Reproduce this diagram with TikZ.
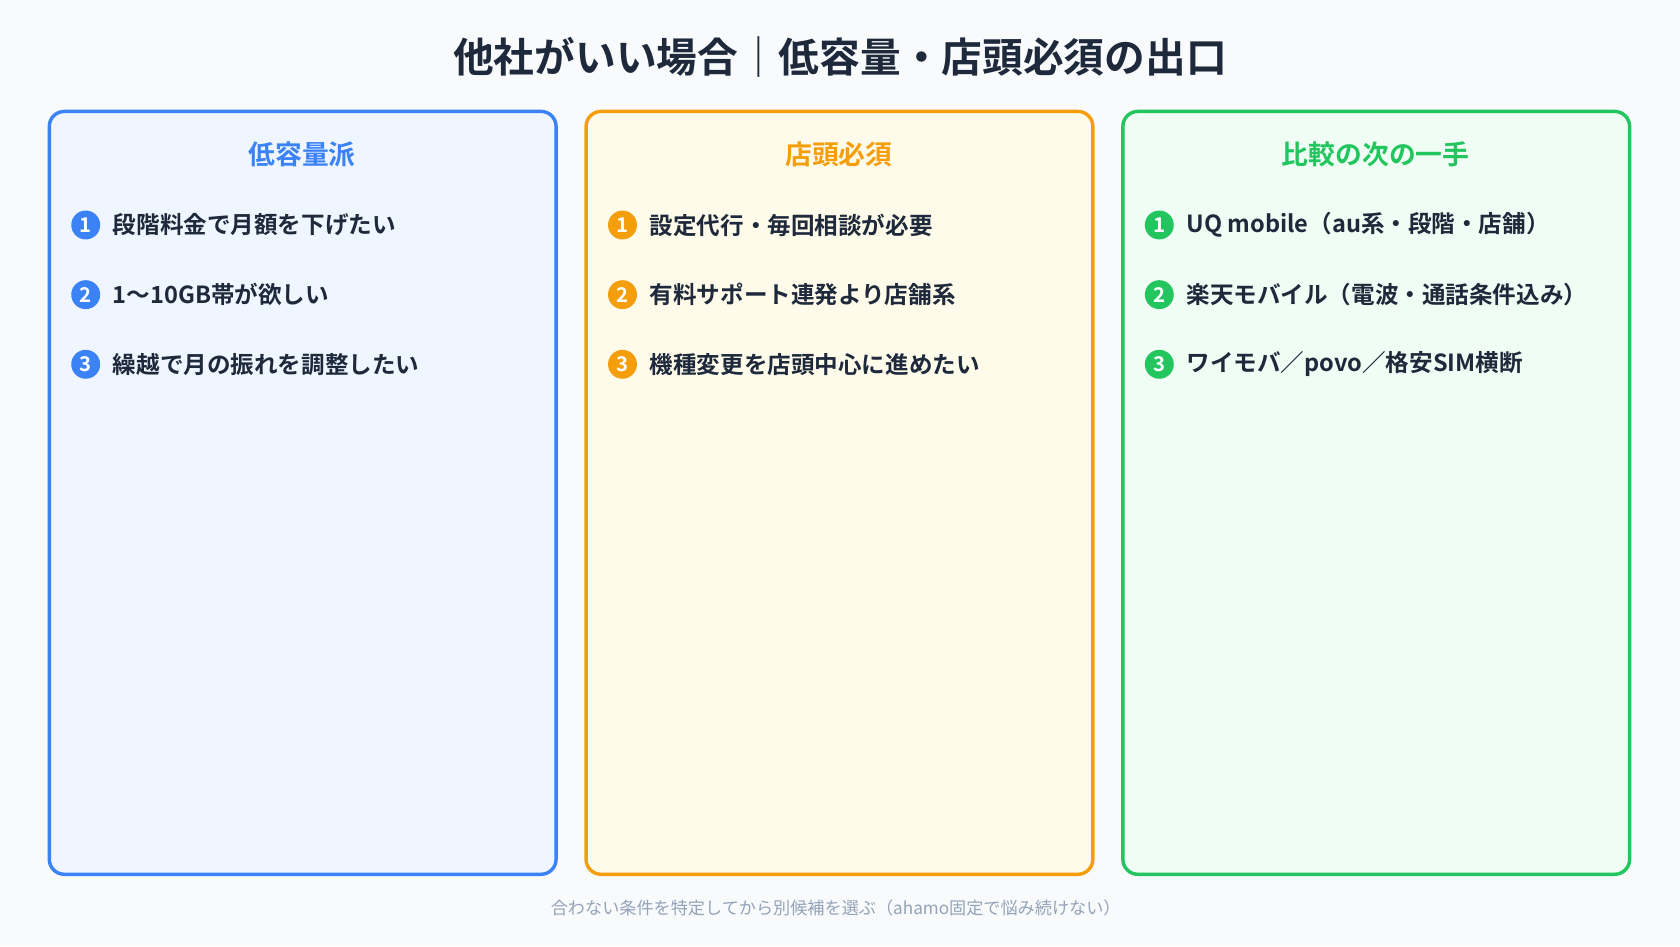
\documentclass[tikz,border=0pt]{standalone}
\usepackage{fontspec}
\setmainfont{Noto Sans CJK JP}
\newfontfamily\bfj{Noto Sans CJK JP Bold}
\begin{document}
\definecolor{bg}{HTML}{F8FAFC}
\definecolor{ink}{HTML}{1E293B}
\definecolor{foot}{HTML}{94A3B8}
\definecolor{cb}{HTML}{3B82F6}\definecolor{fb}{HTML}{EFF6FF}
\definecolor{co}{HTML}{F59E0B}\definecolor{fo}{HTML}{FFFBEB}
\definecolor{cg}{HTML}{22C55E}\definecolor{fg}{HTML}{F0FDF4}
\begin{tikzpicture}[x=0.5pt,y=-0.5pt,
  panel/.style={draw=#1,line width=1.6pt,rounded corners=7pt},
  head/.style={text=#1,font=\bfj\fontsize{12.5}{14}\selectfont},
  num/.style={circle,fill=#1,text=white,inner sep=0pt,minimum size=13.5pt,font=\bfj\fontsize{9.5}{10}\selectfont},
  item/.style={anchor=west,text=ink,font=\bfj\fontsize{11}{13}\selectfont,inner sep=0pt}]
\fill[bg] (0,0) rectangle (1568,883);
\useasboundingbox (0,0) rectangle (1568,883);
\node[text=ink,font=\bfj\fontsize{19}{22}\selectfont] (title) at (784,53) {他社がいい場合｜低容量・店頭必須の出口};
\foreach \n/\x/\c/\f in {a/46/cb/fb,b/547/co/fo,c/1048/cg/fg}{
  \draw[panel=\c,fill=\f] (\x,104) rectangle ++(473,712);
  \coordinate (\n) at (\x,0);
}
\node[head=cb] (ha) at (282,144) {低容量派};
\node[head=co] (hb) at (783,144) {店頭必須};
\node[head=cg] (hc) at (1284,144) {比較の次の一手};
% blue
\node[num=cb] (a1) at (80,210) {1}; \node[item] (ta1) at (105,210) {段階料金で月額を下げたい};
\node[num=cb] (a2) at (80,275) {2}; \node[item] (ta2) at (105,275) {1〜10GB帯が欲しい};
\node[num=cb] (a3) at (80,340) {3}; \node[item] (ta3) at (105,340) {繰越で月の振れを調整したい};
% orange
\node[num=co] (b1) at (581,210) {1}; \node[item] (tb1) at (606,210) {設定代行・毎回相談が必要};
\node[num=co] (b2) at (581,275) {2}; \node[item] (tb2) at (606,275) {有料サポート連発より店舗系};
\node[num=co] (b3) at (581,340) {3}; \node[item] (tb3) at (606,340) {機種変更を店頭中心に進めたい};
% green
\node[num=cg] (c1) at (1082,210) {1}; \node[item] (tc1) at (1107,210) {UQ mobile（au系・段階・店舗）};
\node[num=cg] (c2) at (1082,275) {2}; \node[item] (tc2) at (1107,275) {楽天モバイル（電波・通話条件込み）};
\node[num=cg] (c3) at (1082,340) {3}; \node[item] (tc3) at (1107,340) {ワイモバ／povo／格安SIM横断};
\node[text=foot,font=\fontsize{8}{10}\selectfont] (ft) at (780,847) {合わない条件を特定してから別候補を選ぶ（ahamo固定で悩み続けない）};
\end{tikzpicture}
\end{document}
